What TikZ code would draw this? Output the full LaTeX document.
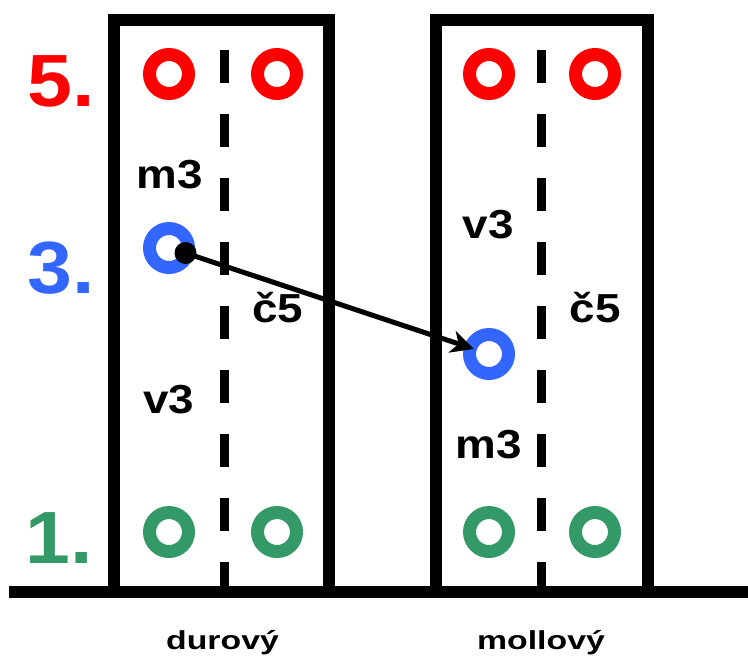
\documentclass[tikz,border=0pt]{standalone}
\usepackage{fontspec}
\setmainfont{Liberation Sans}
\newfontfamily\degreefont{Liberation Sans}[FakeStretch=1.09]
\newfontfamily\labelfont{Liberation Sans}[FakeStretch=1.13]
\newfontfamily\namefont{Liberation Sans}[FakeStretch=1.3]
\usetikzlibrary{arrows.meta}
\definecolor{fifthred}{RGB}{255,0,0}
\definecolor{thirdblue}{RGB}{51,102,255}
\definecolor{rootgreen}{RGB}{51,153,102}

\begin{document}
\begin{tikzpicture}[x=0.75pt, y=-0.75pt,
    ring/.style={circle, draw=#1, line width=9.75pt, minimum size=29.25pt, inner sep=0pt, outer sep=0pt},
    degree/.style={text=#1, font=\degreefont\bfseries\fontsize{55.5}{60}\selectfont, inner sep=0pt, anchor=base},
    interval/.style={font=\labelfont\bfseries\fontsize{30.4}{34}\selectfont, inner sep=0pt, anchor=base},
    chordname/.style={font=\namefont\bfseries\fontsize{19.5}{22}\selectfont, inner sep=0pt, anchor=base},
    wall/.style={line width=9pt},
    split/.style={line width=6.75pt, dash pattern=on 24.75pt off 23.25pt}]
\useasboundingbox (0,0) rectangle (748,657);

% Ground line and chord boxes
\draw[wall] (9,592) -- (748,592);
\foreach \l/\r in {114/329, 436/648} {
    \draw[wall] (\l,592) -- (\l,20) -- (\r,20) -- (\r,592);
}
\foreach \x in {224.5, 541.5} {
    \draw[split] (\x,50) -- (\x,592);
}

% Chord tones
\foreach \x/\n in {169/a, 277/b, 489/c, 595/d} {
    \node[ring=fifthred] (five\n) at (\x,74) {};
    \node[ring=rootgreen] (root\n) at (\x,532) {};
}
\node[ring=thirdblue] (majthird) at (169,248) {};
\node[ring=thirdblue] (minthird) at (489,354) {};

% Degree labels
\node[degree=fifthred] (deg5) at (61,106) {5.};
\node[degree=thirdblue] (deg3) at (61,293) {3.};
\node[degree=rootgreen] (deg1) at (59,563) {1.};

% Intervals
\node[interval] (durm3) at (169.5,188) {m3};
\node[interval] (durc5) at (277.5,322) {č5};
\node[interval] (durv3) at (169,413) {v3};
\node[interval] (molv3) at (488,238) {v3};
\node[interval] (molc5) at (595,322) {č5};
\node[interval] (molm3) at (488.5,458) {m3};

% Chord names
\node[chordname] (durname) at (222.5,649) {durový};
\node[chordname] (molname) at (541,649) {mollový};

% Lowered third
\node[circle, fill=black, minimum size=16.5pt, inner sep=0pt] (dot) at (185.5,253) {};
\draw[line width=3.75pt, -{Stealth[length=17pt, width=17pt, inset=5pt]}, shorten >=-2.6pt] (dot.center) -- (minthird);
\end{tikzpicture}
\end{document}
